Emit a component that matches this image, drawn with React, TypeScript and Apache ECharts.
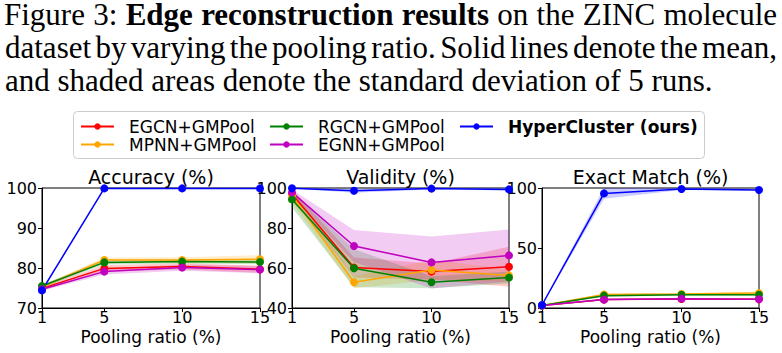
import React, { useEffect, useRef } from 'react';
import * as echarts from 'echarts';

const ratios = [1, 5, 10, 15];
const methods = ['EGCN+GMPool', 'MPNN+GMPool', 'RGCN+GMPool', 'EGNN+GMPool', 'HyperCluster (ours)'];
const colors = ['#ff0000', '#ffa500', '#008000', '#bf00bf', '#0000ff'];

// Accuracy (%) — mean and std per method (order as methods)
const accuracyMean = [
  [74.9, 79.9, 80.4, 79.7],
  [75.3, 82.0, 82.0, 82.2],
  [75.5, 81.4, 81.6, 81.5],
  [74.7, 79.1, 80.1, 79.6],
  [74.4, 99.9, 99.9, 99.9],
];
const accuracyStd = [
  [0.5, 0.8, 0.8, 0.9],
  [0.4, 0.6, 0.7, 1.0],
  [0.4, 0.5, 0.5, 0.6],
  [0.4, 0.7, 0.8, 0.9],
  [0.4, 0.1, 0.1, 0.1],
];

// Validity (%)
const validityMean = [
  [97.0, 60.2, 58.2, 60.6],
  [96.1, 52.9, 59.0, 56.3],
  [94.3, 59.9, 52.9, 55.2],
  [97.8, 71.0, 62.8, 66.3],
  [99.9, 98.6, 99.7, 99.3],
];
const validityStd = [
  [2.5, 5.0, 4.0, 10.0],
  [3.5, 3.0, 5.0, 3.0],
  [4.0, 9.5, 3.0, 3.0],
  [1.5, 8.0, 13.0, 13.0],
  [0.2, 1.0, 0.4, 0.5],
];

// Exact Match (%)
const exactMean = [
  [2.0, 7.0, 7.5, 7.3],
  [2.0, 11.2, 11.7, 12.4],
  [2.0, 10.3, 11.0, 11.0],
  [2.0, 7.0, 7.8, 7.3],
  [2.5, 95.5, 99.2, 98.4],
];
const exactStd = [
  [0.3, 0.6, 0.6, 0.6],
  [0.3, 0.8, 0.9, 1.2],
  [0.3, 0.7, 0.7, 0.8],
  [0.3, 0.6, 0.6, 0.6],
  [0.5, 4.5, 0.8, 1.0],
];

const panelTitles = ['Accuracy (%)', 'Validity (%)', 'Exact Match (%)'];
const yMin = [70, 40, 0];
const yMax = [100, 100, 100];
const yInterval = [10, 20, 50];
const xTicks = [1, 5, 10, 15];
const xName = 'Pooling ratio (%)';

// caption words; "b:" marks bold words
const captionLine1 = ['Figure', '3:', 'b:Edge', 'b:reconstruction', 'b:results', 'on', 'the', 'ZINC', 'molecule'];
const captionLine2 = ['dataset', 'by', 'varying', 'the', 'pooling', 'ratio.', 'Solid', 'lines', 'denote', 'the', 'mean,'];
const captionLine3 = 'and shaded areas denote the standard deviation of 5 runs.';

const SANS = 'DejaVu Sans';
const SERIF = 'Liberation Serif';
const CAP_SIZE = 31;

const grids = [
  { left: 42, top: 188, width: 218, height: 120 },
  { left: 292, top: 188, width: 217, height: 120 },
  { left: 542, top: 188, width: 217, height: 120 },
];

function measure(text: string, bold: boolean): number {
  const c = document.createElement('canvas').getContext('2d');
  if (!c) return text.length * CAP_SIZE * 0.45;
  c.font = `${bold ? 'bold ' : ''}${CAP_SIZE}px "${SERIF}"`;
  return c.measureText(text).width;
}

function justifiedLine(words: string[], x0: number, x1: number, y: number): any[] {
  const items = words.map((w) => {
    const bold = w.startsWith('b:');
    const text = bold ? w.slice(2) : w;
    return { text, bold, w: measure(text, bold) };
  });
  const total = items.reduce((s, it) => s + it.w, 0);
  const gap = (x1 - x0 - total) / (items.length - 1);
  let x = x0;
  return items.map((it) => {
    const el = {
      type: 'text',
      x,
      y,
      style: {
        text: it.text,
        fontFamily: SERIF,
        fontSize: CAP_SIZE,
        fontWeight: it.bold ? 'bold' : 'normal',
        fill: '#000',
        lineHeight: 28,
        verticalAlign: 'middle',
        align: 'left',
      },
    };
    x += it.w + gap;
    return el;
  });
}

function buildOption() {
  const means = [accuracyMean, validityMean, exactMean];
  const stds = [accuracyStd, validityStd, exactStd];
  const series: any[] = [];
  for (let p = 0; p < 3; p++) {
    for (let m = 0; m < methods.length; m++) {
      const mean = means[p][m];
      const sd = stds[p][m];
      const lo = mean.map((v, i) => v - sd[i]);
      const hi = mean.map((v, i) => v + sd[i]);
      const color = colors[m];
      series.push({
        type: 'custom',
        name: methods[m] + ' band',
        xAxisIndex: p,
        yAxisIndex: p,
        silent: true,
        z: 1,
        data: ratios.map((r, i) => [r, lo[i], hi[i]]),
        encode: { x: 0, y: [1, 2] },
        renderItem: (params: any, api: any) => {
          if (params.dataIndex !== 0) return null;
          const upper = ratios.map((r, i) => api.coord([r, hi[i]]));
          const lower = ratios.map((r, i) => api.coord([r, lo[i]])).reverse();
          const cs = params.coordSys;
          const pts = echarts.graphic.clipPointsByRect(upper.concat(lower), {
            x: cs.x, y: cs.y, width: cs.width, height: cs.height,
          });
          return {
            type: 'polygon',
            shape: { points: pts },
            style: { fill: color, opacity: 0.2 },
          };
        },
      });
    }
    for (let m = 0; m < methods.length; m++) {
      const mean = means[p][m];
      series.push({
        type: 'line',
        name: methods[m],
        xAxisIndex: p,
        yAxisIndex: p,
        z: 3,
        data: ratios.map((r, i) => [r, mean[i]]),
        symbol: 'circle',
        symbolSize: 8,
        showSymbol: true,
        lineStyle: { color: colors[m], width: 1.5 },
        itemStyle: { color: colors[m] },
        clip: false,
      });
    }
  }

  const xAxis = grids.map((_, p) => ({
    type: 'value',
    gridIndex: p,
    min: 1,
    max: 15,
    name: xName,
    nameLocation: 'middle',
    nameGap: 20,
    nameTextStyle: { fontFamily: SANS, fontSize: 17, color: '#000' },
    axisLine: { show: true, lineStyle: { color: '#000', width: 1 } },
    axisTick: { show: true, inside: false, length: 4, customValues: xTicks, lineStyle: { color: '#000' } },
    axisLabel: { show: true, customValues: xTicks, margin: 1, fontFamily: SANS, fontSize: 16, color: '#000' },
    splitLine: { show: false },
  }));
  const yAxis = grids.map((_, p) => ({
    type: 'value',
    gridIndex: p,
    min: yMin[p],
    max: yMax[p],
    interval: yInterval[p],
    axisLine: { show: true, lineStyle: { color: '#000', width: 1 } },
    axisTick: { show: true, inside: false, length: 4, lineStyle: { color: '#000' } },
    axisLabel: { show: true, margin: 5, fontFamily: SANS, fontSize: 16, color: '#000' },
    splitLine: { show: false },
  }));

  const legendCommon = {
    orient: 'vertical',
    itemWidth: 33,
    itemHeight: 8,
    itemGap: 1,
    padding: 0,
    selectedMode: false,
    textStyle: { fontFamily: SANS, fontSize: 17, color: '#000', lineHeight: 16, padding: [0, 0, 0, 10] },
  };

  const graphic: any[] = [
    {
      type: 'rect',
      z: 0,
      shape: { x: 73.5, y: 111.5, width: 631, height: 47, r: 4 },
      style: { fill: '#ffffff', stroke: '#cccccc', lineWidth: 1 },
    },
    ...justifiedLine(captionLine1, 4, 777, 14.5),
    ...justifiedLine(captionLine2, 5, 777, 47.5),
    {
      type: 'text',
      x: 5,
      y: 80.5,
      style: {
        text: captionLine3, fontFamily: SERIF, fontSize: CAP_SIZE, fill: '#000',
        lineHeight: 28, verticalAlign: 'middle', align: 'left',
      },
    },
  ];
  grids.forEach((g, p) => {
    graphic.push({
      type: 'text',
      x: g.left + g.width / 2,
      y: 177,
      style: { text: panelTitles[p], fontFamily: SANS, fontSize: 19, fill: '#000', align: 'center', verticalAlign: 'middle' },
    });
  });

  return {
    animation: false,
    backgroundColor: '#ffffff',
    grid: grids.map((g) => ({ ...g, show: true, borderColor: '#000', borderWidth: 1, backgroundColor: 'transparent' })),
    xAxis,
    yAxis,
    legend: [
      { ...legendCommon, left: 80, top: 118, data: [methods[0], methods[1]] },
      { ...legendCommon, left: 269, top: 118, data: [methods[2], methods[3]] },
      {
        ...legendCommon,
        left: 459,
        top: 118,
        data: [methods[4]],
        textStyle: { ...legendCommon.textStyle, fontWeight: 'bold' },
      },
    ],
    graphic,
    series,
  };
}

export default function App() {
  const ref = useRef<HTMLDivElement>(null);
  useEffect(() => {
    if (!ref.current) return;
    const chart = echarts.init(ref.current, null, { renderer: 'svg' });
    chart.setOption(buildOption() as any);
    return () => chart.dispose();
  }, []);
  return (
    <div
      ref={ref}
      style={{ position: 'absolute', left: 0, top: 0, width: 782, height: 353, background: '#fff' }}
    />
  );
}
